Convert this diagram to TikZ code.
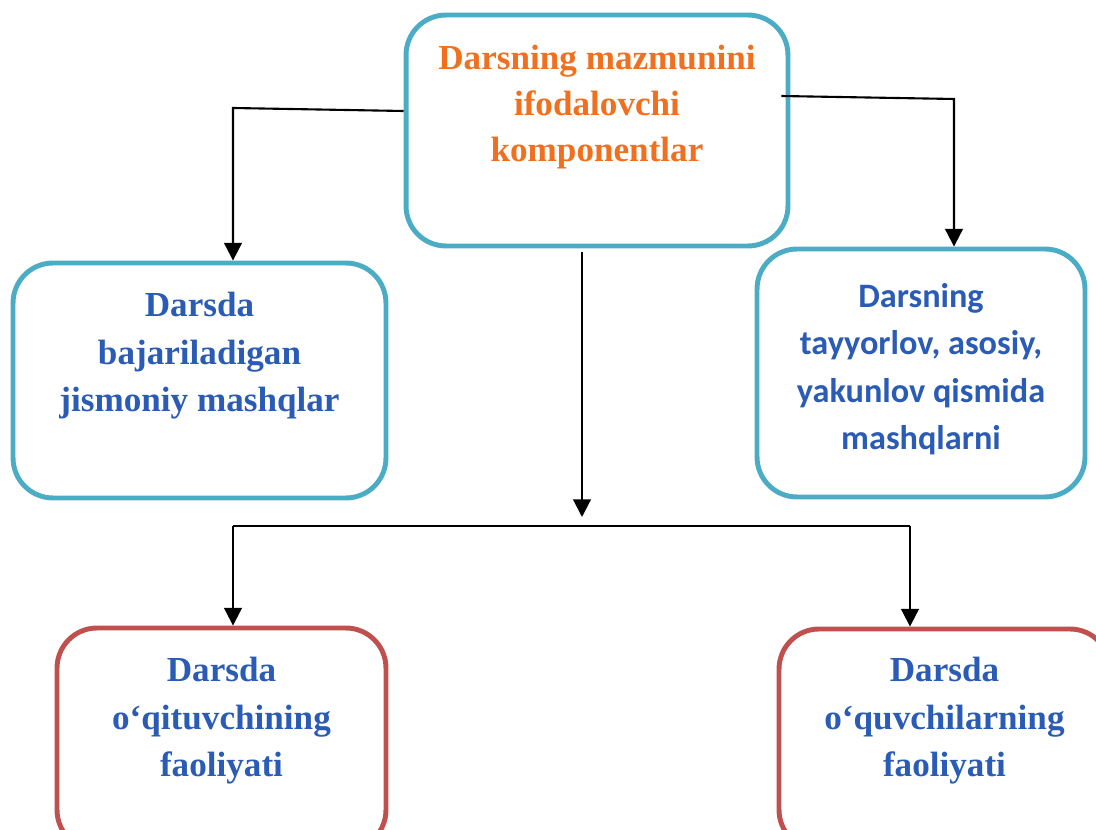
\documentclass[tikz,border=0pt]{standalone}
\usepackage{fontspec}
\setmainfont{Liberation Serif}
\newfontfamily\calfont{Carlito}
\usetikzlibrary{arrows.meta}
\definecolor{boxteal}{RGB}{75, 172, 198}
\definecolor{boxred}{RGB}{192, 80, 77}
\definecolor{textblue}{RGB}{42, 92, 182}
\definecolor{textorange}{RGB}{240, 112, 32}

\begin{document}
\begin{tikzpicture}[x=0.02cm, y=-0.02cm,
	box/.style={draw, line width=2.8pt, rounded corners=0.8cm, fill=white},
	bluetxt/.style={text=textblue, align=center, font=\fontsize{20}{27}\selectfont\bfseries},
	arr/.style={line width=1.2pt, -{Triangle[width=10pt, length=10pt]}}]
	\useasboundingbox (0,0) rectangle (1096,830);
	\clip (0,0) rectangle (1096,830);
	% Cajas
	\node[box, draw=boxteal, minimum width=7.64cm, minimum height=4.62cm] (top) at (597,130.5) {};
	\node[box, draw=boxteal, minimum width=7.46cm, minimum height=4.7cm] (mashq) at (199.5,380.5) {};
	\node[box, draw=boxteal, minimum width=6.56cm, minimum height=4.96cm] (qism) at (921,373) {};
	\node[box, draw=boxred, minimum width=6.58cm, minimum height=4.44cm] (oqit) at (221.5,739) {};
	\node[box, draw=boxred, minimum width=6.62cm, minimum height=4.42cm] (oquv) at (944.5,739.5) {};
	% Textos
	\node[text=textorange, align=center, font=\fontsize{20}{26}\selectfont\bfseries] (toptxt) at (597,107) {Darsning mazmunini\\ifodalovchi\\komponentlar};
	\node[bluetxt] (mashqtxt) at (199.5,356) {Darsda\\bajariladigan\\jismoniy mashqlar};
	\node[bluetxt, font=\calfont\fontsize{19.5}{27}\selectfont\bfseries] (qismtxt) at (921,369) {Darsning\\tayyorlov, asosiy,\\yakunlov qismida\\mashqlarni};
	\node[bluetxt] (oqittxt) at (221.5,721) {Darsda\\o‘qituvchining\\faoliyati};
	\node[bluetxt] (oquvtxt) at (944.5,721) {Darsda\\o‘quvchilarning\\faoliyati};
	% Conectores
	\coordinate (lbend) at (233,108);
	\coordinate (rbend) at (954,99);
	\coordinate (csplit) at (582,517);
	\coordinate (hl) at (233,526);
	\coordinate (hr) at (910,526);
	\draw[arr] ([yshift=0.39cm]top.west) -- (lbend) -- (lbend |- mashq.north);
	\draw[arr] ([xshift=-0.18cm, yshift=0.69cm]top.east) -- (rbend) -- (rbend |- qism.north);
	\draw[arr] ([yshift=-0.08cm]csplit |- top.south) -- (csplit);
	\draw[line width=1.2pt] (hl) -- (hr);
	\foreach \c/\b in {hl/oqit, hr/oquv}
		\draw[arr] (\c) -- (\c |- \b.north);
\end{tikzpicture}
\end{document}
